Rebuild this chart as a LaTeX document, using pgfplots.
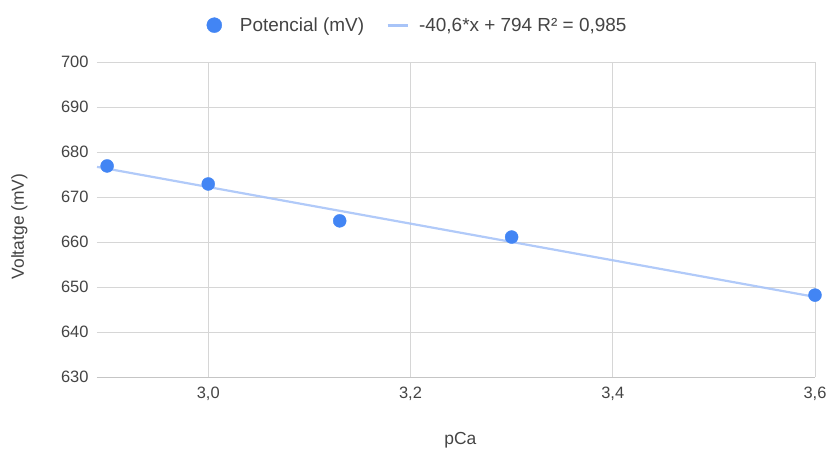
\documentclass[border=0pt]{standalone}
\usepackage{fontspec}
\setmainfont{Liberation Sans}
\usepackage{pgfplots}
\pgfplotsset{compat=1.18}

\definecolor{ptblue}{HTML}{4285F4}
\definecolor{trendblue}{HTML}{A8C4F8}
\definecolor{txtgray}{HTML}{444444}
\definecolor{gridgray}{HTML}{D6D6D6}

\begin{document}
\begin{tikzpicture}
\useasboundingbox (-97bp,-73bp) rectangle (732bp,377bp);
\begin{axis}[
  at={(0,0)}, anchor=south west,
  scale only axis,
  width=718bp, height=315bp,
  xmin=2.89, xmax=3.6,
  ymin=630, ymax=700,
  xtick={3.0,3.2,3.4,3.6},
  ytick={630,640,...,700},
  /pgf/number format/assume math mode=true,
  /pgf/number format/use comma,
  xticklabel={\pgfmathprintnumber[fixed,fixed zerofill,precision=1]{\tick}},
  yticklabel={\pgfmathprintnumber[fixed,precision=0]{\tick}},
  tick label style={font=\fontsize{16.5}{18}\selectfont, text=txtgray},
  xticklabel style={yshift=-7bp},
  yticklabel style={xshift=-5bp},
  label style={font=\fontsize{17.5}{19}\selectfont, text=txtgray},
  xlabel={pCa},
  ylabel={Voltatge (mV)},
  xlabel style={at={(axis description cs:0.506,-0.2)}, anchor=center},
  ylabel style={at={(axis description cs:-0.108,0.478)}, anchor=center},
  axis line style={draw=none},
  major tick length=0pt,
  grid=major,
  major grid style={draw=gridgray, line width=0.9bp},
  clip=false,
  legend columns=2,
  legend style={at={(0.4464,1.117)}, anchor=center, draw=none, fill=none,
    font=\fontsize{19}{21}\selectfont, text=txtgray,
    /tikz/every odd column/.append style={column sep=8bp},
    /tikz/every even column/.append style={column sep=20bp}},
]
% lower axis line a touch darker
\draw[gridgray!80!gray, line width=1bp] (rel axis cs:0,0) -- (rel axis cs:1,0);

% trendline: -40,6*x + 794, end points
\addplot[trendblue, line width=2.2bp, opacity=0.9, forget plot]
  coordinates { (2.89,676.7) (3.6,647.8) };

% measured points
\addplot[only marks, mark=*, mark size=6.5bp, ptblue,
  mark options={draw=ptblue, fill=ptblue},
  legend image code/.code={\fill[ptblue] (8bp,0bp) circle[radius=7.5bp]; \path (23.5bp,0bp);}]
  coordinates {
    (2.90,676.9)
    (3.00,672.9)
    (3.13,664.7)
    (3.30,661.1)
    (3.60,648.2)
  };
\addlegendentry{Potencial (mV)}

\addlegendimage{trendblue, line width=3bp,
  legend image code/.code={\draw[trendblue, line width=3bp] (0bp,0bp) -- (20bp,0bp);}}
\addlegendentry{-40,6*x + 794 R² = 0,985}
\end{axis}
\end{tikzpicture}
\end{document}
